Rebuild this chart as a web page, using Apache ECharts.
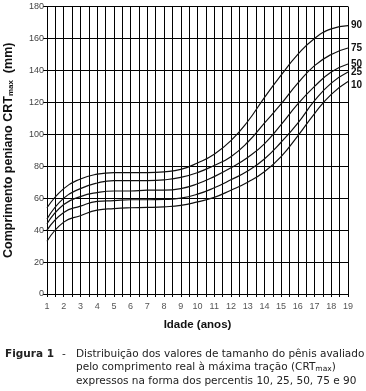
<!DOCTYPE html>
<html><head><meta charset="utf-8">
<script src="https://cdn.jsdelivr.net/npm/echarts@6/dist/echarts.min.js"></script>
<style>html,body{margin:0;padding:0;background:#fff}#c{width:366px;height:391px}</style>
</head><body><div id="c"></div>
<script>
const ages = [1,2,3,4,5,6,7,8,9,10,11,12,13,14,15,16,17,18,19];
const p90 = [54,66,72,75,76,76,76,76.5,78,82,87.5,96,108,123,137,150,160,166,168];
const p75 = [47,60,66,69.5,71,71,71,71.5,73,76,80.5,86,95,107,119,132,143,150,154];
const p50 = [44,56,61,63.5,64.5,64.5,65,65,66,69,73.5,79,85.5,94,106,119,130,139,144];
const p25 = [40,51,55,58,58.5,59,59,59.2,60,62.5,66.5,71.5,77,84.5,95,107,121,132,139];
const p10 = [33,45,49,52.5,53.5,54,54.2,54.6,55.5,57.7,60.5,65,70,76.5,86,99,113,125,133];
const seriesNames = ['90','75','50','25','10'];
const seriesValues = [p90,p75,p50,p25,p10];
const labelOffsetY = [0,0,0,0,4];

const chart = echarts.init(document.getElementById('c'), null, {renderer:'canvas'});
const series = seriesNames.map((n,i)=>({
  name:n, type:'line', smooth:true, symbol:'none',
  data: ages.map((a,j)=>[a, seriesValues[i][j]]),
  lineStyle:{color:'#111', width:1.2},
  endLabel:{show:true, formatter:n, distance:3, offset:[0,labelOffsetY[i]],
    fontFamily:'Liberation Sans', fontWeight:'bold', fontSize:10, color:'#111'},
  z:5
}));
chart.setOption({
  animation:false,
  grid:{left:47, right:18, top:6.5, bottom:97, containLabel:false, outerBoundsMode:'none'},
  xAxis:{type:'value', min:1, max:19, interval:0.5,
    axisLine:{show:true, lineStyle:{color:'#000', width:1}},
    axisTick:{show:true, length:3, lineStyle:{color:'#000'}},
    axisLabel:{formatter:v=> (Math.abs(v-Math.round(v))<1e-6 ? String(Math.round(v)) : ''),
      fontFamily:'Liberation Sans', fontSize:9, color:'#555', margin:8, showMinLabel:true, showMaxLabel:true},
    splitLine:{show:true, lineStyle:{color:'#000', width:1}},
    name:'Idade (anos)', nameLocation:'middle', nameGap:25,
    nameTextStyle:{fontFamily:'Liberation Sans', fontWeight:'bold', fontSize:11.5, color:'#111'}
  },
  yAxis:{type:'value', min:0, max:180, interval:20,
    axisLine:{show:true, lineStyle:{color:'#000', width:1}},
    axisTick:{show:true, length:4, lineStyle:{color:'#000'}},
    axisLabel:{fontFamily:'Liberation Sans', fontSize:9, color:'#444', margin:3},
    splitLine:{show:true, lineStyle:{color:'#000', width:1}},
    name:'Comprimento peniano CRT{s|max}  (mm)', nameLocation:'middle', nameRotate:90, nameGap:32,
    nameTextStyle:{fontFamily:'Liberation Sans', fontWeight:'bold', fontSize:12.5, color:'#111',
      rich:{s:{fontFamily:'Liberation Sans', fontWeight:'bold', fontSize:8, color:'#111', verticalAlign:'bottom', padding:[5,0,0,0]}}}
  },
  series: series,
  graphic:[
    {type:'text', left:5, top:349, style:{text:'Figura 1', font:'bold 10.5px "DejaVu Sans"', fill:'#222'}},
    {type:'text', left:62, top:349, style:{text:'-', font:'10.5px "DejaVu Sans"', fill:'#222'}},
    {type:'text', left:76, top:349, style:{text:'Distribuição dos valores de tamanho do pênis avaliado', font:'10.5px "DejaVu Sans"', fill:'#222'}},
    {type:'text', left:76, top:362, style:{text:'pelo comprimento real à máxima tração (CRT{s|max})', font:'10.5px "DejaVu Sans"', fill:'#222',
      rich:{s:{font:'7.5px "DejaVu Sans"', fill:'#222', verticalAlign:'bottom', padding:[4,0,0,0]}}}},
    {type:'text', left:76, top:376, style:{text:'expressos na forma dos percentis 10, 25, 50, 75 e 90', font:'10.5px "DejaVu Sans"', fill:'#222'}}
  ]
});
</script></body></html>
